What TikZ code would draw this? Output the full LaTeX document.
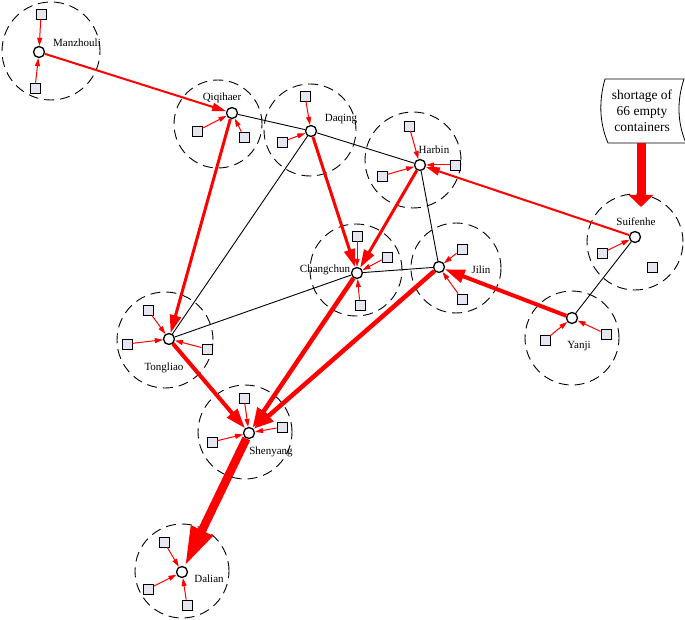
\documentclass[tikz,border=0pt]{standalone}
\usepackage{fontspec}
\setmainfont{Liberation Serif}
\usetikzlibrary{arrows.meta}
\definecolor{boxfill}{HTML}{E4E7EF}
\begin{document}
\begin{tikzpicture}[x=1pt,y=-1pt,
  city/.style={circle,draw,line width=1.3pt,fill=white,minimum size=11pt,inner sep=0pt},
  cont/.style={rectangle,draw,line width=0.8pt,fill=boxfill,minimum size=10pt,inner sep=0pt},
  zone/.style={draw,dash pattern=on 10pt off 6pt,line width=0.9pt},
  lbl/.style={font=\fontsize{11}{13}\selectfont,inner sep=0pt},
  feed/.style={draw=red,line width=1pt,-{Triangle[length=8pt,width=5pt]}},
  link/.style={draw=black,line width=0.9pt},
  flowA/.style={draw=red,line width=2pt,-{Triangle[length=14pt,width=8pt]}},
  flowB/.style={draw=red,line width=3pt,-{Triangle[length=18pt,width=11pt]}},
  flowC/.style={draw=red,line width=4pt,-{Triangle[length=20pt,width=13pt]}},
  flowCC/.style={draw=red,line width=4.5pt,-{Triangle[length=20pt,width=14pt]}},
  flowD/.style={draw=red,line width=8.5pt,-{Triangle[length=40pt,width=22pt]}},
]
\useasboundingbox (0,0) rectangle (685,620);

% zones
\draw[zone] (51,51) circle[radius=49pt];
\draw[zone] (218,124) circle[radius=44pt];
\draw[zone] (310,130) circle[radius=46pt];
\draw[zone] (413,160) circle[radius=48pt];
\draw[zone] (356,270) circle[radius=46pt];
\draw[zone] (456,268) circle[radius=45pt];
\draw[zone] (635,242) circle[radius=48pt];
\draw[zone] (572,338) circle[radius=47pt];
\draw[zone] (165,340) circle[radius=48pt];
\draw[zone] (245,432) circle[radius=47pt];
\draw[zone] (182,571) circle[radius=47pt];

% cities
\node[city] (Manzhouli) at (39,52) {};
\node[city] (Qiqihaer) at (232,113) {};
\node[city] (Daqing) at (311,131) {};
\node[city] (Harbin) at (420,165) {};
\node[city] (Changchun) at (357,273) {};
\node[city] (Jilin) at (439,267) {};
\node[city] (Suifenhe) at (635,237) {};
\node[city] (Yanji) at (572,318) {};
\node[city] (Tongliao) at (169,339) {};
\node[city] (Shenyang) at (249,433) {};
\node[city] (Dalian) at (182,572) {};

% labels
\node[lbl] (lMan) at (77,43) {Manzhouli};
\node[lbl] (lQiq) at (222,98) {Qiqihaer};
\node[lbl] (lDaq) at (341,119) {Daqing};
\node[lbl] (lHar) at (434,150) {Harbin};
\node[lbl] (lCha) at (325,270) {Changchun};
\node[lbl] (lJil) at (481,270) {Jilin};
\node[lbl] (lSui) at (636,222) {Suifenhe};
\node[lbl] (lYan) at (579,346) {Yanji};
\node[lbl] (lTon) at (164,368) {Tongliao};
\node[lbl] (lShe) at (271,452) {Shenyang};
\node[lbl] (lDal) at (209,579) {Dalian};

% containers
\node[cont] (m1) at (41,14) {};
\node[cont] (m2) at (35,88) {};
\node[cont] (q1) at (197,131) {};
\node[cont] (q2) at (244,137) {};
\node[cont] (d1) at (305,96) {};
\node[cont] (d2) at (282,142) {};
\node[cont] (h1) at (409,126) {};
\node[cont] (h2) at (455,165) {};
\node[cont] (h3) at (382,176) {};
\node[cont] (c1) at (357,236) {};
\node[cont] (c2) at (387,257) {};
\node[cont] (c3) at (360,305) {};
\node[cont] (j1) at (462,249) {};
\node[cont] (j2) at (462,299) {};
\node[cont] (s1) at (602,253) {};
\node[cont] (s2) at (652,267) {};
\node[cont] (y1) at (545,340) {};
\node[cont] (y2) at (606,334) {};
\node[cont] (t1) at (148,310) {};
\node[cont] (t2) at (127,344) {};
\node[cont] (t3) at (207,349) {};
\node[cont] (e1) at (244,398) {};
\node[cont] (e2) at (282,427) {};
\node[cont] (e3) at (212,442) {};
\node[cont] (a1) at (164,542) {};
\node[cont] (a2) at (148,589) {};
\node[cont] (a3) at (187,605) {};

% container feeds
\foreach \b/\c in {m1/Manzhouli,m2/Manzhouli,q1/Qiqihaer,q2/Qiqihaer,d1/Daqing,d2/Daqing,
  h1/Harbin,h2/Harbin,h3/Harbin,c1/Changchun,c2/Changchun,c3/Changchun,j1/Jilin,j2/Jilin,
  s1/Suifenhe,y1/Yanji,y2/Yanji,t1/Tongliao,t2/Tongliao,t3/Tongliao,e1/Shenyang,e2/Shenyang,
  e3/Shenyang,a1/Dalian,a2/Dalian,a3/Dalian}
  \draw[feed] (\b) -- (\c);

% black links
\draw[link] (Qiqihaer) -- (Daqing);
\draw[link] (Daqing) -- (Harbin);
\draw[link] (Daqing) -- (Tongliao);
\draw[link] (Harbin) -- (Jilin);
\draw[link] (Changchun) -- (Jilin);
\draw[link] (Changchun) -- (Tongliao);
\draw[link] (Suifenhe) -- (Yanji);

% red flows
\draw[flowA] (Manzhouli) -- (Qiqihaer);
\draw[flowA] (Suifenhe) -- (Harbin);
\draw[flowB] (Qiqihaer) -- (Tongliao);
\draw[flowB] (Daqing) -- (Changchun);
\draw[flowB] (Harbin) -- (Changchun);
\draw[flowC] (Tongliao) -- (Shenyang);
\draw[flowC] (Yanji) -- (Jilin);
\draw[flowCC] (Changchun) -- (Shenyang);
\draw[flowCC] (Jilin) -- (Shenyang);
\draw[flowD] (Shenyang) -- (Dalian);

% shortage note
\draw[line width=0.8pt,fill=white] (605,79) -- (684,79)
  .. controls (677,100) and (677,122) .. (686,143) -- (608,143)
  .. controls (599,122) and (599,100) .. (605,79) -- cycle;
\node[align=center,inner sep=0pt,font=\fontsize{13.5}{16}\selectfont] (shortage) at (642,111)
  {shortage of\\66 empty\\containers};
\coordinate (shortBot) at (641,143);
\coordinate (sfTip) at (641,207);
\draw[draw=red,line width=9pt,-{Triangle[length=12pt,width=24pt]}] (shortBot) -- (sfTip);

\end{tikzpicture}
\end{document}
